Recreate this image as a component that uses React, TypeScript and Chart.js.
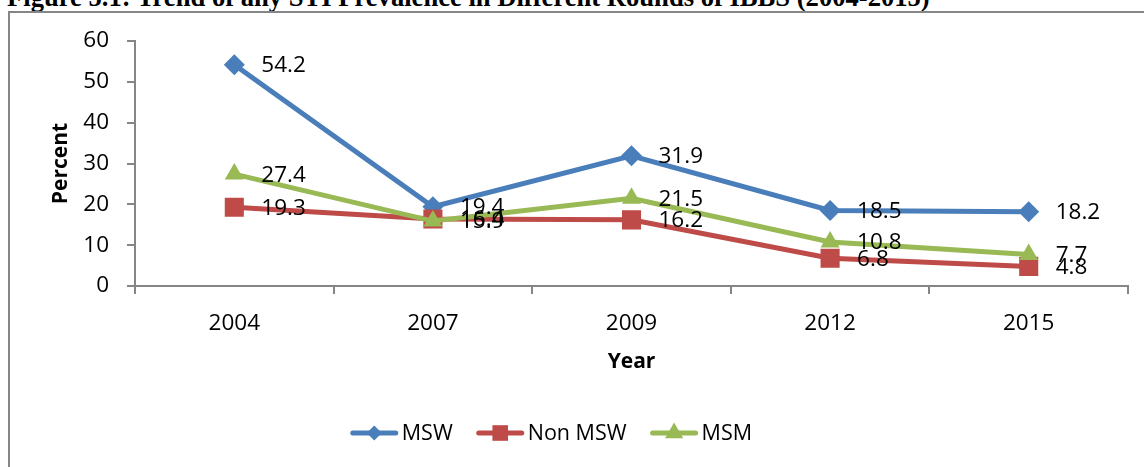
import React, { useEffect, useRef } from 'react';
import { Chart, registerables } from 'chart.js';

Chart.register(...registerables);

const titleText = 'Figure 5.1: Trend of any STI Prevalence in Different Rounds of IBBS (2004-2015)';
const years = ['2004', '2007', '2009', '2012', '2015'];
const mswValues = [54.2, 19.4, 31.9, 18.5, 18.2];
const nonMswValues = [19.3, 16.4, 16.2, 6.8, 4.8];
const msmValues = [27.4, 15.9, 21.5, 10.8, 7.7];
const yTickValues = [0, 10, 20, 30, 40, 50, 60];
const seriesNames = ['MSW', 'Non MSW', 'MSM'];

const BLUE = '#4A7EBB';
const RED = '#BE4B48';
const GREEN = '#98B954';
const AXIS = '#868686';
const FONT = '"Open Sans", "Noto Sans", sans-serif';

function drawMarker(ctx: CanvasRenderingContext2D, style: string, x: number, y: number, r: number) {
  ctx.beginPath();
  if (style === 'rectRot') {
    ctx.moveTo(x - r, y);
    ctx.lineTo(x, y + r);
    ctx.lineTo(x + r, y);
    ctx.lineTo(x, y - r);
  } else if (style === 'rect') {
    ctx.rect(x - r, y - r, 2 * r, 2 * r);
  } else {
    ctx.moveTo(x, y - r);
    ctx.lineTo(x + r * 0.866, y + r * 0.5);
    ctx.lineTo(x - r * 0.866, y + r * 0.5);
  }
  ctx.closePath();
  ctx.fill();
}

const valueLabels = {
  id: 'valueLabels',
  afterDatasetsDraw(chart: any) {
    const ctx = chart.ctx as CanvasRenderingContext2D;
    ctx.save();
    ctx.font = `22.5px ${FONT}`;
    ctx.fillStyle = '#000';
    ctx.textBaseline = 'middle';
    ctx.textAlign = 'left';
    chart.data.datasets.forEach((ds: any, i: number) => {
      const meta = chart.getDatasetMeta(i);
      meta.data.forEach((pt: any, j: number) => {
        ctx.fillText(String(ds.data[j]), pt.x + 27, pt.y + 1);
      });
    });
    ctx.restore();
  },
};

const lineLegend = {
  id: 'lineLegend',
  afterDraw(chart: any) {
    const ctx = chart.ctx as CanvasRenderingContext2D;
    ctx.save();
    ctx.font = `21.5px ${FONT}`;
    const lineLen = 47;
    const gapText = 4;
    const gapItem = 24;
    const items = chart.data.datasets.map((ds: any) => ({
      ds,
      w: lineLen + gapText + ctx.measureText(ds.label).width,
    }));
    const total = items.reduce((s: number, it: any) => s + it.w, 0) + gapItem * (items.length - 1);
    let x = chart.width * 0.482 - total / 2;
    const y = chart.height - 34;
    items.forEach((it: any) => {
      const c = it.ds.borderColor;
      ctx.strokeStyle = c;
      ctx.fillStyle = c;
      ctx.lineWidth = 5;
      ctx.lineCap = 'round';
      ctx.beginPath();
      ctx.moveTo(x + 2, y);
      ctx.lineTo(x + lineLen - 2, y);
      ctx.stroke();
      drawMarker(ctx, it.ds.pointStyle, x + lineLen / 2, y, it.ds.legendRadius);
      ctx.fillStyle = '#000';
      ctx.textBaseline = 'middle';
      ctx.textAlign = 'left';
      ctx.fillText(it.ds.label, x + lineLen + gapText, y + 1);
      x += it.w + gapItem;
    });
    ctx.restore();
  },
};

export default function App() {
  const canvasRef = useRef<HTMLCanvasElement | null>(null);

  useEffect(() => {
    if (!canvasRef.current) return;
    const tickFont = { family: FONT, size: 22.5 };
    const titleFont = { family: FONT, size: 21, weight: 'bold' as const };
    const chart = new Chart(canvasRef.current, {
      type: 'line',
      data: {
        labels: years,
        datasets: [
          {
            label: seriesNames[0],
            data: mswValues,
            borderColor: BLUE,
            backgroundColor: BLUE,
            borderWidth: 5,
            pointStyle: 'rectRot',
            pointRadius: 10.5,
            pointBorderWidth: 0,
            pointBackgroundColor: BLUE,
            tension: 0,
            order: 3,
            legendRadius: 7.5,
          } as any,
          {
            label: seriesNames[1],
            data: nonMswValues,
            borderColor: RED,
            backgroundColor: RED,
            borderWidth: 5,
            pointStyle: 'rect',
            pointRadius: 13.5,
            pointBorderWidth: 0,
            pointBackgroundColor: RED,
            tension: 0,
            order: 2,
            legendRadius: 7.8,
          } as any,
          {
            label: seriesNames[2],
            data: msmValues,
            borderColor: GREEN,
            backgroundColor: GREEN,
            borderWidth: 5,
            pointStyle: 'triangle',
            pointRadius: 11,
            pointBorderWidth: 0,
            pointBackgroundColor: GREEN,
            tension: 0,
            order: 1,
            legendRadius: 10.5,
          } as any,
        ],
      },
      options: {
        responsive: false,
        animation: false,
        devicePixelRatio: 1,
        layout: { padding: { left: 48, right: 16, top: 41, bottom: 92 } },
        plugins: {
          legend: { display: false },
          tooltip: { enabled: false },
          title: { display: false },
        },
        scales: {
          x: {
            type: 'category',
            offset: true,
            grid: {
              offset: true,
              drawOnChartArea: false,
              drawTicks: true,
              tickLength: 8,
              color: AXIS,
              lineWidth: 2,
            },
            border: { color: AXIS, width: 2 },
            ticks: { font: tickFont, color: '#000', padding: 16, maxRotation: 0, autoSkip: false },
            title: { display: true, text: 'Year', font: titleFont, color: '#000', padding: 0 },
            afterFit: (s: any) => {
              s.height = 89;
            },
          },
          y: {
            min: 0,
            max: 60,
            afterBuildTicks: (s: any) => {
              s.ticks = yTickValues.map((v) => ({ value: v }));
            },
            grid: {
              drawOnChartArea: false,
              drawTicks: true,
              tickLength: 8,
              color: AXIS,
              lineWidth: 2,
            },
            border: { color: AXIS, width: 2 },
            ticks: { font: tickFont, color: '#000', padding: 18 },
            title: { display: true, text: 'Percent', font: titleFont, color: '#000', padding: 0 },
            afterFit: (s: any) => {
              s.width = 87;
            },
          },
        },
      },
      plugins: [valueLabels, lineLegend],
    });
    return () => chart.destroy();
  }, []);

  return (
    <div
      style={{
        position: 'absolute',
        left: 0,
        top: 0,
        width: 1144,
        height: 467,
        overflow: 'hidden',
        background: '#fff',
      }}
    >
      <div
        style={{
          position: 'absolute',
          left: 7,
          top: -16,
          whiteSpace: 'nowrap',
          fontFamily: '"Liberation Serif", "Times New Roman", serif',
          fontWeight: 'bold',
          fontSize: 26.6,
          lineHeight: 1,
          color: '#000',
        }}
      >
        {titleText}
      </div>
      <div
        style={{
          position: 'absolute',
          left: 8,
          top: 11,
          width: 1200,
          height: 500,
          border: `2px solid ${AXIS}`,
          boxSizing: 'border-box',
        }}
      />
      <canvas
        ref={canvasRef}
        width={1144}
        height={467}
        style={{ position: 'absolute', left: 0, top: 0, display: 'block' }}
      />
    </div>
  );
}
